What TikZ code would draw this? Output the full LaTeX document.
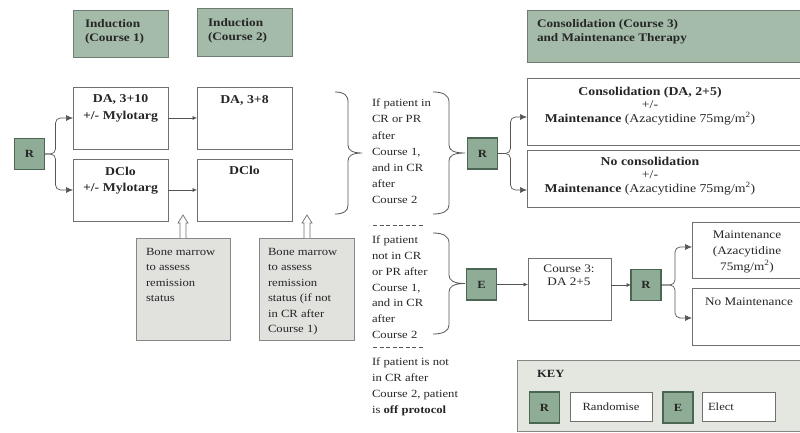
\documentclass[tikz,border=0pt]{standalone}
\usepackage{fontspec}
\setmainfont[FakeStretch=1.15]{Liberation Serif}
\usetikzlibrary{arrows.meta,calc}
\definecolor{hdrgreen}{HTML}{A3BBA8}
\definecolor{hdrline}{HTML}{6F7C72}
\definecolor{rgreen}{HTML}{8FAD96}
\definecolor{rborder}{HTML}{4B6652}
\definecolor{bmgray}{HTML}{E1E2DE}
\definecolor{bmline}{HTML}{858885}
\definecolor{keyfill}{HTML}{E3E7E0}
\definecolor{lined}{HTML}{707070}
\definecolor{arrcol}{HTML}{555555}
\definecolor{txt}{HTML}{262626}
\begin{document}
\begin{tikzpicture}[x=1pt,y=-1pt,
  every node/.style={inner sep=0pt, outer sep=0pt, text=txt},
  plainbox/.style={draw=lined, line width=0.8pt, fill=white},
  hdrbox/.style={draw=hdrline, line width=0.9pt, fill=hdrgreen},
  rbox/.style={draw=rborder, line width=1.6pt, fill=rgreen, minimum width=30pt, minimum height=31pt, font=\bfseries\fontsize{11}{12}\selectfont},
  bmbox/.style={draw=bmline, line width=0.9pt, fill=bmgray},
  keybox/.style={draw=bmline, line width=0.9pt, fill=keyfill},
  arr/.style={draw=arrcol, line width=0.7pt, -{Latex[length=7pt,width=6pt]}},
  smallarr/.style={draw=arrcol, line width=0.7pt, -{Latex[length=4.5pt,width=4pt]}},
  bracepath/.style={draw=arrcol, line width=0.8pt},
  uparr/.style={draw=lined, line width=0.7pt, fill=white},
  dashsep/.style={draw=arrcol, line width=0.6pt, dash pattern=on 4pt off 2.5pt},
  midtxt/.style={anchor=north west, align=left, font=\fontsize{11}{16.2}\selectfont},
  bmtxt/.style={anchor=north west, align=left, font=\fontsize{11}{15.5}\selectfont},
  hdrtxt/.style={anchor=north west, align=left, font=\bfseries\fontsize{11.5}{14}\selectfont},
  boxtxt/.style={anchor=north, align=center, font=\bfseries\fontsize{12}{16.5}\selectfont},
  contxt/.style={anchor=north, align=center, font=\fontsize{12}{13.5}\selectfont},
  maintxt/.style={anchor=north, align=center, font=\fontsize{11.5}{16}\selectfont}
]
\useasboundingbox (0,0) rectangle (800,433);
\clip (0,0) rectangle (800,433);

% headers
\node[hdrbox, minimum width=95pt, minimum height=47pt] (hdr1) at (120.5,33.5) {};
\node[hdrtxt] (hdr1t) at (85,20) {Induction\\(Course 1)};
\node[hdrbox, minimum width=95pt, minimum height=48pt] (hdr2) at (244.5,32) {};
\node[hdrtxt] (hdr2t) at (208,19) {Induction\\(Course 2)};
\node[hdrbox, minimum width=283pt, minimum height=52pt] (hdr3) at (668.5,36) {};
\node[hdrtxt] (hdr3t) at (537,20) {Consolidation (Course 3)\\and Maintenance Therapy};

% induction boxes
\node[plainbox, minimum width=95pt, minimum height=62pt] (a1) at (120.5,118) {};
\node[boxtxt] (a1t) at (120.5,95) {DA, 3+10\\+/- Mylotarg};
\node[plainbox, minimum width=95pt, minimum height=62pt] (b1) at (120.5,190) {};
\node[boxtxt] (b1t) at (120.5,167) {DClo\\+/- Mylotarg};
\node[plainbox, minimum width=95pt, minimum height=62pt] (a2) at (244.5,118) {};
\node[boxtxt] (a2t) at (244.5,95.5) {DA, 3+8};
\node[plainbox, minimum width=95pt, minimum height=62pt] (b2) at (244.5,190) {};
\node[boxtxt] (b2t) at (244.5,166) {DClo};

% randomise start
\node[rbox] (r0) at (29.5,154) {R};
\draw[arr, rounded corners=5pt] (r0.east) -- ++(11,0) |- (a1.west);
\draw[arr, rounded corners=5pt] (r0.east) -- ++(11,0) |- (b1.west);
\draw[smallarr] (a1.east) -- (a2.west);
\draw[smallarr] (b1.east) -- (b2.west);

% bone marrow boxes
\node[bmbox, minimum width=94pt, minimum height=102pt] (bm1) at (183,289) {};
\node[bmtxt] (bm1t) at (146,248) {Bone marrow\\to assess\\remission\\status};
\node[bmbox, minimum width=95pt, minimum height=102pt] (bm2) at (306.5,289) {};
\node[bmtxt] (bm2t) at (268,248) {Bone marrow\\to assess\\remission\\status (if not\\in CR after\\Course 1)};
\draw[uparr] ([xshift=-3pt]bm1.north) -- ++(0,-15) -- ++(-2,0) -- ++(5,-8) -- ++(5,8) -- ++(-2,0) -- ++(0,15);
\draw[uparr] ([xshift=0.5pt]bm2.north) ++(-3,0) -- ++(0,-15) -- ++(-2,0) -- ++(5,-8) -- ++(5,8) -- ++(-2,0) -- ++(0,15);

% braces and condition texts
\draw[bracepath] (335,92) .. controls (344,92) and (348,95) .. (348,102) -- (348,145)
  .. controls (348,150) and (352,153) .. (362,153) .. controls (352,153) and (348,156) .. (348,161)
  -- (348,205) .. controls (348,211) and (344,214) .. (335,214);
\node[midtxt] (t1) at (372,99) {If patient in\\CR or PR\\after\\Course 1,\\and in CR\\after\\Course 2};
\draw[bracepath] (433,92) .. controls (443,92) and (449,95) .. (449,102) -- (449,145)
  .. controls (449,150) and (453,153) .. (465,153) .. controls (453,153) and (449,156) .. (449,161)
  -- (449,205) .. controls (449,211) and (443,214) .. (433,214);
\draw[dashsep] (373,225) -- (423,225);
\node[midtxt, font=\fontsize{11}{15.8}\selectfont] (t2) at (372,236) {If patient\\not in CR\\or PR after\\Course 1,\\and in CR\\after\\Course 2};
\draw[bracepath] (433,233) .. controls (443,233) and (449,236) .. (449,243) -- (449,275)
  .. controls (449,280) and (453,283.5) .. (465,283.5) .. controls (453,283.5) and (449,287) .. (449,292)
  -- (449,325) .. controls (449,331) and (443,334) .. (433,334);
\draw[dashsep] (373,347) -- (423,347);
\node[midtxt, font=\fontsize{11}{16}\selectfont] (t3) at (372,358) {If patient is not\\in CR after\\Course 2, patient\\is \textbf{off protocol}};

% consolidation branch
\node[rbox] (r1) at (482.5,153.5) {R};
\node[plainbox, minimum width=283pt, minimum height=67pt] (c1) at (668.5,111.5) {};
\node[contxt] (c1t) at (650,87) {\textbf{Consolidation (DA, 2+5)}\\+/-\\\textbf{Maintenance} (Azacytidine 75mg/m\textsuperscript{2})};
\node[plainbox, minimum width=283pt, minimum height=57pt] (c2) at (668.5,178.5) {};
\node[contxt] (c2t) at (650,157) {\textbf{No consolidation}\\+/-\\\textbf{Maintenance} (Azacytidine 75mg/m\textsuperscript{2})};
\draw[arr, rounded corners=5pt] (r1.east) -- ++(13,0) |- ([yshift=-5.5pt]c1.west);
\draw[arr, rounded corners=5pt] (r1.east) -- ++(13,0) |- ([yshift=-11.5pt]c2.west);

% elect branch
\node[rbox] (e1) at (481.5,284.5) {E};
\node[plainbox, minimum width=83pt, minimum height=62pt] (c3) at (569.5,289) {};
\node[contxt, font=\fontsize{11.5}{13}\selectfont] (c3t) at (569,265) {Course 3:\\DA 2+5};
\node[rbox] (r2) at (646,285) {R};
\draw[smallarr] (e1.east) -- (e1.east -| c3.west);
\draw[smallarr] (c3.east |- r2.west) -- (r2.west);
\node[plainbox, minimum width=118pt, minimum height=56pt] (m1) at (751,250) {};
\node[maintxt] (m1t) at (747,230.5) {Maintenance\\(Azacytidine\\75mg/m\textsuperscript{2})};
\node[plainbox, minimum width=118pt, minimum height=57pt] (m2) at (751,316.5) {};
\node[maintxt] (m2t) at (749,297.5) {No Maintenance};
\draw[arr, rounded corners=5pt] (r2.east) -- ++(14,0) |- ([yshift=3pt]m1.west);
\draw[arr, rounded corners=5pt] (r2.east) -- ++(14,0) |- ([yshift=-1.5pt]m2.west);

% key
\node[keybox, minimum width=293pt, minimum height=71pt] (key) at (663.5,395.5) {};
\node[anchor=north west, font=\bfseries\fontsize{11}{12}\selectfont] (keyt) at (537,370) {KEY};
\node[rbox] (kr) at (544.5,407.5) {R};
\node[plainbox, minimum width=82pt, minimum height=29pt, font=\fontsize{11}{12}\selectfont] (krt) at (611,406.5) {Randomise};
\node[rbox] (ke) at (678,407.5) {E};
\node[plainbox, minimum width=73pt, minimum height=29pt] (ket) at (738.5,406.5) {};
\node[font=\fontsize{11}{12}\selectfont] (ketx) at (721,406.5) {Elect};
\end{tikzpicture}
\end{document}
